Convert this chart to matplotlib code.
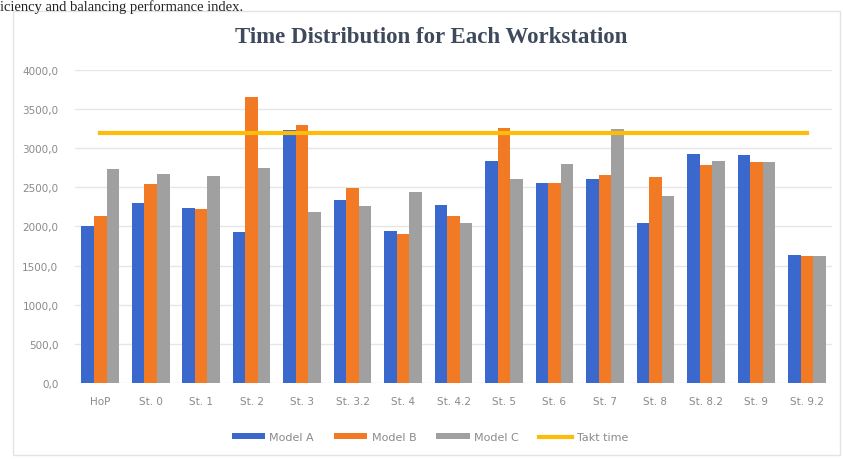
import numpy as np
import matplotlib.pyplot as plt
from matplotlib.patches import Rectangle
from matplotlib.ticker import FuncFormatter

stations = ['HoP', 'St. 0', 'St. 1', 'St. 2', 'St. 3', 'St. 3.2', 'St. 4', 'St. 4.2',
            'St. 5', 'St. 6', 'St. 7', 'St. 8', 'St. 8.2', 'St. 9', 'St. 9.2']
model_a = [2000, 2300, 2230, 1930, 3230, 2340, 1940, 2270, 2840, 2560, 2600, 2040, 2920, 2910, 1640]
model_b = [2130, 2540, 2220, 3650, 3300, 2490, 1900, 2130, 3260, 2560, 2660, 2630, 2790, 2820, 1620]
model_c = [2730, 2670, 2650, 2750, 2180, 2260, 2440, 2040, 2600, 2800, 3250, 2390, 2830, 2820, 1620]
takt_time = 3190

fig = plt.figure(figsize=(8.43, 4.6), dpi=100)
ax = fig.add_axes([0.089, 0.165, 0.898, 0.681])

# faint frame around the chart
fig.patches.append(Rectangle((0.016, 0.008), 0.98, 0.966, transform=fig.transFigure,
                             fill=False, edgecolor='#e4e4e4', linewidth=1.0))

x = np.arange(len(stations))
w = 0.248
ax.bar(x - w, model_a, w, color='#3a68cc', label='Model A', zorder=2)
ax.bar(x, model_b, w, color='#f27a25', label='Model B', zorder=2)
ax.bar(x + w, model_c, w, color='#a0a0a0', label='Model C', zorder=2)
ax.plot([x[0], x[-1]], [takt_time, takt_time], color='#fbbd08',
        linewidth=3, label='Takt time', zorder=3)

ax.set_xlim(-0.5, len(stations) - 0.5)
ax.set_ylim(0, 4000)
ax.set_yticks(np.arange(0, 4001, 500))
ax.yaxis.set_major_formatter(FuncFormatter(lambda v, p: f'{v:.1f}'.replace('.', ',')))
ax.set_xticks(x)
ax.set_xticklabels(stations)
ax.tick_params(axis='both', length=0, labelsize=7.5, labelcolor='#8a8a8a')
ax.tick_params(axis='x', pad=9)
ax.tick_params(axis='y', pad=12)
ax.grid(axis='y', color='#e6e6e6', linewidth=1, zorder=0)
for s in ax.spines.values():
    s.set_visible(False)

fig.text(0.511, 0.919, 'Time Distribution for Each Workstation', ha='center', va='center',
         fontsize=16.5, fontweight='bold', family='Liberation Serif', color='#3e4a5c')

# caption line above the chart
fig.text(0.0, 0.999, 'iciency and balancing performance index.', ha='left', va='top',
         fontsize=10.5, family='Liberation Serif', color='#222222')

handles, labels = ax.get_legend_handles_labels()
order = [1, 2, 3, 0]
leg = fig.legend([handles[i] for i in order], [labels[i] for i in order],
                 loc='center', bbox_to_anchor=(0.51, 0.047), ncol=4, frameon=False,
                 fontsize=8, handlelength=3.0, handleheight=0.45, columnspacing=1.8,
                 handletextpad=0.4)
for t in leg.get_texts():
    t.set_color('#8a8a8a')

fig.savefig('out.png', dpi=100)
